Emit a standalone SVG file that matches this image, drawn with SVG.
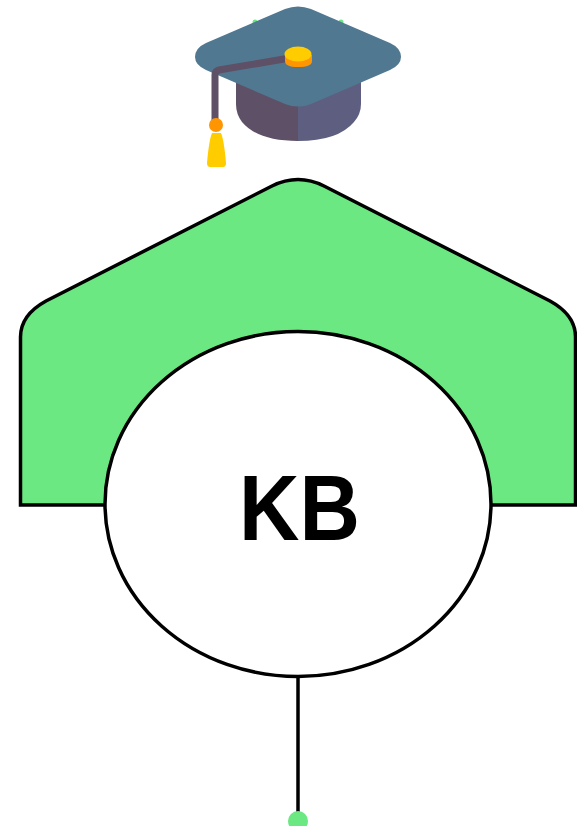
<svg xmlns="http://www.w3.org/2000/svg" width="577" height="826" viewBox="0 0 577 826">
<style>
.ln{stroke:#000;stroke-width:3.500;}
.kb{font-family:"Liberation Sans",Arial,sans-serif;font-size:93px;font-weight:700;fill:#000;text-anchor:middle;}
</style>
<rect width="577" height="826" fill="#fff"/>
<g id="connectors">
<line class="ln" x1="298" y1="676" x2="298" y2="816"/>
</g>
<g id="end-dot"><circle cx="298" cy="821" r="10" fill="#6be882"/></g>
<g id="house">
<path class="ln" fill="#6be882" d="M20.500 505V337Q20.500 315 46 301L272 186Q298 173 324 186L550 301Q575.500 315 575.500 337V505Z"/>
</g>
<g id="kb-node">
<ellipse class="ln" cx="298" cy="504" rx="193" ry="172.500" fill="#fff"/>
<text class="kb" transform="translate(299.500 539.500) scale(.9 1)">KB</text>
</g>
<g id="cap">
<circle cx="255" cy="22" r="2.500" fill="#6be882"/>
<circle cx="341" cy="22" r="2.500" fill="#6be882"/>
<path fill="#5e5066" d="M236 78H298V141Q258 141 242 122Q236 114 236 104Z"/>
<path fill="#5e5f80" d="M298 78H361V104Q361 114 354 122Q338 141 298 141Z"/>
<path fill="#517891" d="M285 9Q298 4 311 9L390 43Q401 48 401 57Q401 65 390 70L311 104Q298 109 285 104L206 70Q195 65 195 57Q195 48 206 43Z"/>
<path fill="none" stroke="#5e5066" stroke-width="7" d="M290 58L219 70Q215 71 215 75V122"/>
<path fill="#ff9500" d="M285 55H312V61Q312 67 298 67Q285 67 285 61Z"/>
<ellipse cx="298" cy="54" rx="13.500" ry="7.500" fill="#ffcc00"/>
<circle cx="216" cy="125" r="7" fill="#ff9500"/>
<path fill="#ffcc00" d="M212 133H221Q224 140 226 163Q226 167 223 167H210Q207 167 207 163Q209 140 212 133Z"/>
</g>
</svg>
